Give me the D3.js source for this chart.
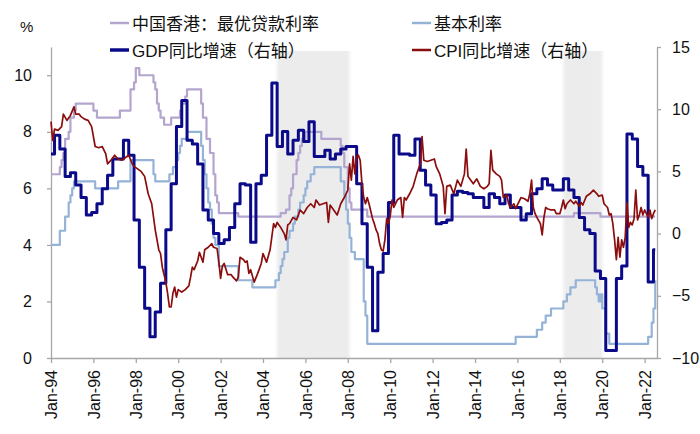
<!doctype html>
<html>
<head>
<meta charset="utf-8">
<script src="https://cdn.jsdelivr.net/npm/d3@7"></script>
<style>
  body { margin: 0; background: #fff; }
  text { font-family: "Liberation Sans", Arial, "Noto Sans CJK SC", sans-serif; fill: #111; }
</style>
</head>
<body>
<div id="chart"></div>
<script>
// months are counted from Jan-94 (0 = Jan-94)
var tickMonths = [0, 24, 48, 72, 96, 120, 144, 168, 192, 216, 240, 264, 288, 312, 336];
var tickLabels = ["Jan-94", "Jan-96", "Jan-98", "Jan-00", "Jan-02", "Jan-04", "Jan-06", "Jan-08",
                  "Jan-10", "Jan-12", "Jan-14", "Jan-16", "Jan-18", "Jan-20", "Jan-22"];
var leftTicks = [0, 2, 4, 6, 8, 10];
var rightTicks = [-10, -5, 0, 5, 10, 15];

// HK prime rate (%), step changes
var primeMonth = [0, 5, 6, 7, 8, 10, 11, 13, 14, 24, 26, 39, 45, 47, 48, 50, 58, 59, 60, 61, 62, 64, 68, 73, 74, 76, 77,
                  85, 86, 88, 90, 92, 93, 94, 95, 106, 130, 133, 135, 136, 137, 139, 140, 141, 142, 144, 153,
                  164, 165, 166, 168, 169, 170, 179, 296, 311, 342];
var primeRate = [6.5, 6.75, 7.0, 7.25, 7.75, 8.0, 8.5, 8.75, 9.0, 8.75, 8.5, 8.75, 9.5, 9.75, 10.25, 10.0, 9.75, 9.5, 9.0, 8.75, 8.5, 8.25, 8.5, 8.75, 9.0, 9.25, 9.5,
                 9.0, 8.5, 7.75, 7.25, 6.5, 5.75, 5.5, 5.125, 5.0, 5.125, 5.25, 5.75, 6.0, 6.5, 7.0, 7.25, 7.5, 7.75, 8.0, 7.75,
                 7.5, 7.25, 6.75, 6.0, 5.5, 5.25, 5.0, 5.125, 5.0, 5.0];

// base rate (%), step changes
var baseMonth = [0, 5, 8, 10, 11, 12, 13, 25, 38, 45, 58, 59, 67, 69, 71, 72, 73, 74, 77, 85, 86, 87, 88, 89, 90, 91, 92, 93, 95,
                 106, 114, 127, 129, 130, 131, 132, 134, 135, 137, 138, 140, 141, 143, 144, 145, 147, 149, 164, 166, 167,
                 168, 169, 170, 172, 177, 178, 179, 263, 275, 278, 280, 283, 290, 292, 294, 297, 308, 309, 310, 311, 312,
                 314, 316, 338, 340, 341, 342];
var baseRate = [4.0, 4.5, 5.0, 5.5, 5.75, 6.0, 6.25, 6.0, 6.25, 7.0, 6.5, 6.25, 6.5, 6.75, 7.0, 7.25, 7.5, 7.75, 8.0, 7.5, 7.0, 6.5, 6.0, 5.5, 5.25, 4.75, 4.25, 4.0, 3.25,
                2.75, 2.5, 2.75, 3.0, 3.25, 3.5, 3.75, 4.25, 4.5, 4.75, 5.0, 5.25, 5.5, 5.75, 6.0, 6.25, 6.5, 6.75, 6.25, 5.75, 5.25,
                4.75, 4.25, 3.75, 3.5, 2.0, 1.5, 0.5, 0.75, 1.0, 1.25, 1.5, 1.75, 2.0, 2.25, 2.5, 2.75, 2.5, 2.25, 2.0, 2.25, 1.75,
                0.86, 0.5, 0.75, 1.25, 1.75, 2.75];

// real GDP yoy (%), quarterly, first value = 1993Q4
var gdpValue = [6.4,
  7.9, 6.8, 4.6, 4.9,   3.9, 2.9, 1.5, 1.7,   2.4, 3.6, 4.7, 6.0,   6.0, 7.5, 6.3, 1.1,
  -2.7, -6.0, -8.3, -6.3,   -4.0, 0.3, 4.0, 8.6,   10.7, 7.5, 7.2, 5.6,   1.9, 1.1, 0.0, -0.8,
  -0.5, 0.5, 2.4, 4.0,   3.9, -0.7, 4.0, 4.7,   7.9, 12.1, 7.0, 8.2,   6.4, 7.5, 8.3, 7.4,
  9.0, 6.2, 6.2, 6.7,   6.0, 6.4, 6.8, 7.0,   7.0, 4.0, 0.8, -2.7,   -7.8, -3.1, -1.6, 2.5,
  7.9, 6.4, 6.4, 6.3,   7.6, 5.1, 3.9, 3.1,   0.8, 0.9, 1.1, 3.1,   3.4, 3.3, 3.2, 2.9,
  2.9, 2.1, 3.2, 2.9,   2.4, 3.1, 2.1, 2.1,   1.1, 1.6, 3.2, 3.6,   4.4, 3.9, 3.5, 3.5,
  4.4, 3.5, 2.9, 1.3,   0.3, 0.0, -3.0, -3.6,   -9.4, -9.4, -3.6, -2.6,   8.0, 7.6, 5.4, 4.7,
  -3.9, -1.3];

// CPI yoy (%)
var cpiMonth = [0, 1, 2, 4, 6, 7, 9, 11, 13, 14, 16, 17, 19, 21, 23, 25, 27, 29, 31, 32, 34, 36, 38, 40, 42, 44, 46, 47, 49,
  51, 53, 55, 57, 59, 61, 62, 63, 65, 66, 67, 68, 69, 70, 71, 72, 73, 74, 76, 78, 79, 80, 81, 83, 84, 86, 87, 89,
  91, 92, 94, 95, 96, 97, 98, 100, 102, 103, 105, 106, 107, 109, 110, 111, 112, 113, 115, 117, 119, 120, 122, 124,
  126, 127, 128, 130, 132, 133, 134, 135, 137, 139, 141, 143, 145, 147, 149, 150, 152, 154, 156, 157, 158, 160,
  162, 164, 166, 168, 169, 170, 171, 172, 173, 174, 175, 176, 177, 178, 179, 180, 181, 182, 183, 184, 185, 186,
  187, 188, 189, 190, 191, 192, 193, 194, 196, 198, 199, 200, 201, 203, 205, 207, 209, 210, 211, 213, 215, 217,
  218, 220, 222, 223, 224, 226, 228, 230, 232, 234, 235, 236, 237, 239, 241, 243, 245, 247, 248, 249, 250, 252,
  254, 255, 256, 258, 259, 260, 262, 263, 264, 266, 268, 270, 271, 272, 273, 274, 275, 277, 278, 279, 280, 281,
  283, 285, 286, 288, 289, 290, 291, 292, 294, 296, 297, 299, 300, 301, 303, 305, 307, 309, 310, 312, 313, 315,
  316, 317, 318, 319, 320, 321, 322, 323, 324, 325, 326, 327, 328, 329, 330, 331, 332, 333, 334, 335, 336, 337,
  338, 339, 340, 341, 342];
var cpiValue = [9.0, 7.5, 8.4, 8.3, 8.6, 9.6, 9.1, 9.5, 10.2, 9.6, 9.6, 9.4, 9.2, 9.1, 8.6, 7.0, 6.9, 7.0, 6.4, 5.6, 5.9, 6.3, 6.0, 5.9, 6.1, 6.3, 5.6, 5.4, 5.2,
  5.0, 4.6, 3.2, 2.4, 0.3, -1.3, -1.6, -2.7, -3.9, -4.8, -5.9, -5.9, -4.8, -4.3, -5.1, -4.5, -4.6, -4.7, -4.5, -4.2, -3.5, -2.7, -2.9, -2.2, -1.5, -2.3, -1.3, -1.1,
  -0.8, -1.1, -1.2, -2.3, -3.6, -2.6, -2.4, -3.3, -3.3, -3.5, -3.8, -3.5, -1.9, -2.1, -2.3, -2.2, -3.2, -2.9, -3.9, -3.2, -2.4, -1.6, -2.3, -1.3,
  0.8, 0.5, 0.9, 0.5, 0.0, -0.5, 0.7, 0.8, 1.3, 1.1, 1.9, 1.6, 2.1, 2.4, 2.1, 2.7, 2.3, 2.4, 2.5, 0.9, 2.3, 1.9,
  1.5, 2.4, 2.9, 3.5, 5.6, 4.3, 6.2, 4.8, 6.2, 6.3, 5.9, 4.0, 2.9, 2.4, 2.9, 2.4, 1.8, 1.2, 0.8, 0.3, 0.0, -0.8,
  -1.3, -1.4, -0.5, 1.2, 0.8, 1.4, 2.7, 2.1, 2.7, 2.9, 1.3, 2.9, 2.7, 3.2, 3.8, 4.8, 5.6, 7.8, 5.9, 5.8, 5.9, 6.0,
  5.4, 4.8, 3.8, 1.6, 3.8, 3.9, 3.2, 4.3, 3.8, 4.8, 6.8, 4.6, 4.4, 4.0, 4.4, 3.8, 3.6, 3.8, 4.0, 6.7, 5.1, 4.8,
  4.6, 4.3, 2.9, 3.1, 2.4, 2.1, 2.4, 2.0, 2.3, 2.9, 2.8, 2.6, 3.2, 4.3, 2.1, 1.6, 1.3, 0.8, -0.1, 1.3, 2.1, 2.0,
  1.9, 1.9, 1.6, 1.6, 2.1, 2.7, 2.0, 2.4, 2.7, 2.4, 2.6, 2.2, 2.5, 2.3, 3.0, 3.2, 3.5, 3.2, 3.0, 3.1, 2.4, 2.1,
  1.5, 1.6, 0.8, -0.5, -2.1, -0.3, -1.9, -0.5, -1.1, -0.3, 2.5, 0.5, 0.9, 0.7, 1.2, 3.5, 1.1, 1.5, 2.1, 1.5, 1.9, 1.6,
  1.3, 1.9, 1.2, 1.6, 1.9];

// shaded periods (month index)
var shadeFrom = [128, 290];
var shadeTo = [169, 312];

var legendNames = ["中国香港：最优贷款利率", "基本利率", "GDP同比增速（右轴）", "CPI同比增速（右轴）"];
var colors = ["#b4a5cf", "#95b3d7", "#0b0b8a", "#8b0d0d"];

var W = 700, H = 434;
var plotLeft = 51, plotRight = 657, plotTop = 47, plotBottom = 358;

var svg = d3.select("#chart").append("svg")
    .attr("width", W)
    .attr("height", H)
    .style("background", "#fff");

var x = d3.scaleLinear().domain([0, 343]).range([plotLeft, plotRight]);
var yL = d3.scaleLinear().domain([0, 11]).range([plotBottom, plotTop]);
var yR = d3.scaleLinear().domain([-10, 15]).range([plotBottom, plotTop]);

var defs = svg.append("defs");
defs.append("filter").attr("id", "soft")
    .attr("x", "-10%").attr("width", "120%")
    .append("feGaussianBlur").attr("stdDeviation", "1.8 0");

// grey periods
svg.append("g").selectAll("rect")
    .data(d3.zip(shadeFrom, shadeTo))
    .enter().append("rect")
    .attr("x", function (d) { return x(d[0]); })
    .attr("width", function (d) { return x(d[1]) - x(d[0]); })
    .attr("y", plotTop + 4)
    .attr("height", plotBottom - plotTop - 4)
    .attr("fill", "#ececec")
    .attr("filter", "url(#soft)");

// axes
var axisColor = "#a6a6a6";
function styleAxis(g) {
    g.select(".domain").attr("stroke", axisColor).attr("stroke-width", 1.3);
    g.selectAll(".tick line").attr("stroke", axisColor).attr("stroke-width", 1.3);
    g.selectAll(".tick text").attr("font-size", 16).style("fill", "#111");
}

svg.append("g")
    .attr("transform", "translate(" + plotLeft + ",0)")
    .call(d3.axisLeft(yL).tickValues(leftTicks).tickSize(4).tickSizeOuter(0).tickPadding(15))
    .call(styleAxis);

svg.append("g")
    .attr("transform", "translate(" + plotRight + ",0)")
    .call(d3.axisRight(yR).tickValues(rightTicks).tickSize(4).tickSizeOuter(0).tickPadding(11))
    .call(styleAxis);

var xAxis = svg.append("g")
    .attr("transform", "translate(0," + plotBottom + ")")
    .call(d3.axisBottom(x).tickValues(tickMonths).tickSize(5).tickSizeOuter(0)
        .tickFormat(function (d, i) { return tickLabels[i]; }))
    .call(styleAxis);
xAxis.selectAll(".tick text")
    .attr("y", 0)
    .attr("x", -12)
    .attr("dy", "0.35em")
    .attr("transform", "rotate(-90)")
    .style("text-anchor", "end");

// series
var lineL = d3.line().x(function (d) { return x(d[0]); }).y(function (d) { return yL(d[1]); });
var lineR = d3.line().x(function (d) { return x(d[0]); }).y(function (d) { return yR(d[1]); });

var primeData = d3.zip(primeMonth, primeRate);
var baseData = d3.zip(baseMonth, baseRate);
var gdpData = gdpValue.map(function (v, i) { return [Math.max(0, 3 * i - 1), v]; });
gdpData.push([342, gdpValue[gdpValue.length - 1]]);
var cpiData = d3.zip(cpiMonth, cpiValue);

var plot = svg.append("g").attr("fill", "none").attr("stroke-linejoin", "round");

plot.append("path").datum(primeData)
    .attr("d", lineL.curve(d3.curveStepAfter))
    .attr("stroke", colors[0]).attr("stroke-width", 2.2);

plot.append("path").datum(baseData)
    .attr("d", lineL.curve(d3.curveStepAfter))
    .attr("stroke", colors[1]).attr("stroke-width", 2.2);

plot.append("path").datum(gdpData)
    .attr("d", lineR.curve(d3.curveStepAfter))
    .attr("stroke", colors[2]).attr("stroke-width", 3);

plot.append("path").datum(cpiData)
    .attr("d", lineR.curve(d3.curveLinear))
    .attr("stroke", colors[3]).attr("stroke-width", 1.7);

// legend
var legX = [110, 412, 110, 412];
var legY = [23, 23, 50, 50];
var legW = [2.5, 2.5, 3.5, 2.5];
var leg = svg.append("g").selectAll("g")
    .data(legendNames)
    .enter().append("g")
    .attr("transform", function (d, i) { return "translate(" + legX[i] + "," + legY[i] + ")"; });
leg.append("line")
    .attr("x1", 0).attr("x2", 19)
    .attr("stroke", function (d, i) { return colors[i]; })
    .attr("stroke-width", function (d, i) { return legW[i]; });
leg.append("text")
    .attr("x", 22)
    .attr("y", 6.8)
    .attr("font-size", 17)
    .text(function (d) { return d; });

svg.append("text")
    .attr("x", 20)
    .attr("y", 32)
    .attr("font-size", 15)
    .text("%");
</script>
</body>
</html>
